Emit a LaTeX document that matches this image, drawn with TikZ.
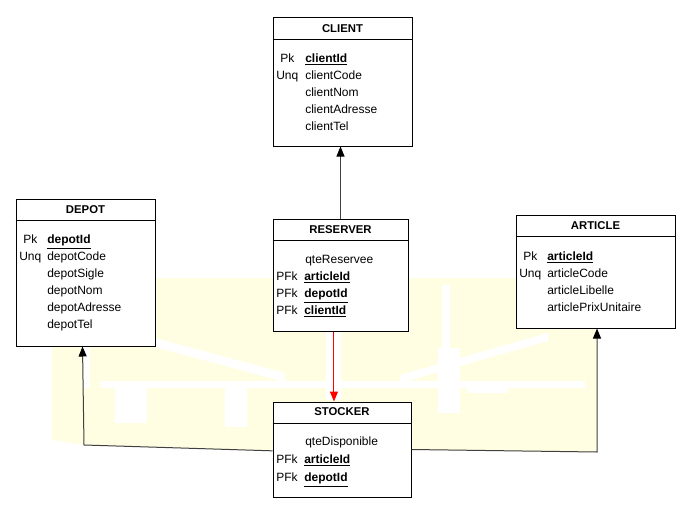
\documentclass[tikz,border=0pt]{standalone}
\usepackage{fontspec}
\setmainfont{Liberation Sans}
\usetikzlibrary{arrows.meta}
\definecolor{fondjaune}{RGB}{255,254,226}

\begin{document}
\begin{tikzpicture}[x=0.75pt, y=-0.75pt, >={Triangle[length=7.5pt,width=6pt,color=black]},
  table/.style={draw, fill=white, line width=0.75pt, inner sep=0pt},
  titre/.style={inner sep=0pt, font=\fontsize{8.5}{10}\selectfont\bfseries},
  champ/.style={anchor=base west, inner sep=0pt, font=\fontsize{9}{11}\selectfont},
  cle/.style={champ, font=\fontsize{9}{11}\selectfont\bfseries},
  lien/.style={draw=black!75, line width=0.75pt}]

  \useasboundingbox (0,0) rectangle (696,517);

  % --- 0. fond jaune pâle ---
  \fill[fondjaune] (52,346) -- (155,346) -- (155,278) -- (597,278) -- (597,452)
    -- (411,450) -- (273,451) -- (84,445) -- (52,440) -- cycle;
  \fill[white] (155,338) -- (285,373) -- (285,382) -- (155,347) -- cycle;
  \fill[white] (400,375) -- (548,333) -- (548,341) -- (400,383) -- cycle;
  \fill[white] (100,381) rectangle (585,388);
  \fill[white] (84,346) rectangle (90,388);
  \fill[white] (115,388) rectangle (147,423);
  \fill[white] (225,388) rectangle (247,427);
  \fill[white] (442,285) rectangle (450,348);
  \fill[white] (438,348) rectangle (460,413);
  \fill[white] (467,388) rectangle (508,393);
  \fill[white] (326,331) rectangle (341,400);

  % --- 1. table CLIENT ---
  \node[table, minimum width=104.25pt, minimum height=96pt] (client) at (342.5,82) {};
  \draw[line width=0.75pt] (client.north west) ++(0,22) -- ++(139,0);
  \node[titre] (clientT) at (342.5,29) {CLIENT};
  \node[champ] (clientPk) at (280,62.5) {Pk};
  \node[cle] (clientId) at (305,62.5) {\underline{clientId}};
  \node[champ] (clientUnq) at (276,79.5) {Unq};
  \node[champ] (clientCode) at (305,79.5) {clientCode};
  \node[champ] (clientNom) at (305,96.5) {clientNom};
  \node[champ] (clientAdresse) at (305,113.5) {clientAdresse};
  \node[champ] (clientTel) at (305,130.5) {clientTel};

  % --- 2. table DEPOT ---
  \node[table, minimum width=104.25pt, minimum height=110.25pt] (depot) at (85.5,272.5) {};
  \draw[line width=0.75pt] (depot.north west) ++(0,22) -- ++(139,0);
  \node[titre] (depotT) at (85.5,210) {DEPOT};
  \node[champ] (depotPk) at (23,243.5) {Pk};
  \node[cle] (depotId) at (47,243.5) {\underline{depotId}};
  \node[champ] (depotUnq) at (19,260.5) {Unq};
  \node[champ] (depotCode) at (47,260.5) {depotCode};
  \node[champ] (depotSigle) at (47,277.5) {depotSigle};
  \node[champ] (depotNom) at (47,294.5) {depotNom};
  \node[champ] (depotAdresse) at (47,311.5) {depotAdresse};
  \node[champ] (depotTel) at (47,328.5) {depotTel};

  % --- 3. table RESERVER ---
  \node[table, minimum width=101.25pt, minimum height=84pt] (reserver) at (340.5,275) {};
  \draw[line width=0.75pt] (reserver.north west) ++(0,22) -- ++(135,0);
  \node[titre] (reserverT) at (340.5,230) {RESERVER};
  \node[champ] (reserverQte) at (305,263.5) {qteReservee};
  \node[champ] (reserverPFk1) at (276,280.5) {PFk};
  \node[cle] (reserverArticle) at (304,280.5) {\underline{articleId}};
  \node[champ] (reserverPFk2) at (276,297.5) {PFk};
  \node[cle] (reserverDepot) at (304,297.5) {\underline{depotId}};
  \node[champ] (reserverPFk3) at (276,314.5) {PFk};
  \node[cle] (reserverClient) at (304,314.5) {\underline{clientId}};

  % --- 4. table ARTICLE ---
  \node[table, minimum width=119.25pt, minimum height=84.75pt] (article) at (595.5,271.5) {};
  \draw[line width=0.75pt] (article.north west) ++(0,22) -- ++(159,0);
  \node[titre] (articleT) at (595.5,226) {ARTICLE};
  \node[champ] (articlePk) at (523,260.5) {Pk};
  \node[cle] (articleId) at (547,260.5) {\underline{articleId}};
  \node[champ] (articleUnq) at (519,277.5) {Unq};
  \node[champ] (articleCode) at (547,277.5) {articleCode};
  \node[champ] (articleLibelle) at (547,294.5) {articleLibelle};
  \node[champ] (articlePrix) at (547,311.5) {articlePrixUnitaire};

  % --- 5. table STOCKER ---
  \node[table, minimum width=103.5pt, minimum height=71.25pt] (stocker) at (342,449.5) {};
  \draw[line width=0.75pt] (stocker.north west) ++(0,22) -- ++(138,0);
  \node[titre] (stockerT) at (342,412) {STOCKER};
  \node[champ] (stockerQte) at (305,445.5) {qteDisponible};
  \node[champ] (stockerPFk1) at (276,463.5) {PFk};
  \node[cle] (stockerArticle) at (304,463.5) {\underline{articleId}};
  \node[champ] (stockerPFk2) at (276,481.5) {PFk};
  \node[cle] (stockerDepot) at (304,481.5) {\underline{depotId}};

  % --- 6. liens ---
  \coordinate (coinDepot) at (84,445);
  \coordinate (coinArticle) at (597,452);

  \draw[lien, ->] (reserver.north) -- (reserver.north |- client.south);
  \draw[red, line width=0.75pt, -{Triangle[length=7.5pt,width=6pt]}] ([xshift=-4.9pt]reserver.south) -- ([xshift=-4.9pt]reserver.south |- stocker.north);
  \draw[lien, ->] ([yshift=-1pt]stocker.west) -- (coinDepot) -- ([xshift=-2.25pt]depot.south);
  \draw[lien, ->] (stocker.east) -- (coinArticle) -- (coinArticle |- article.south);

\end{tikzpicture}
\end{document}
